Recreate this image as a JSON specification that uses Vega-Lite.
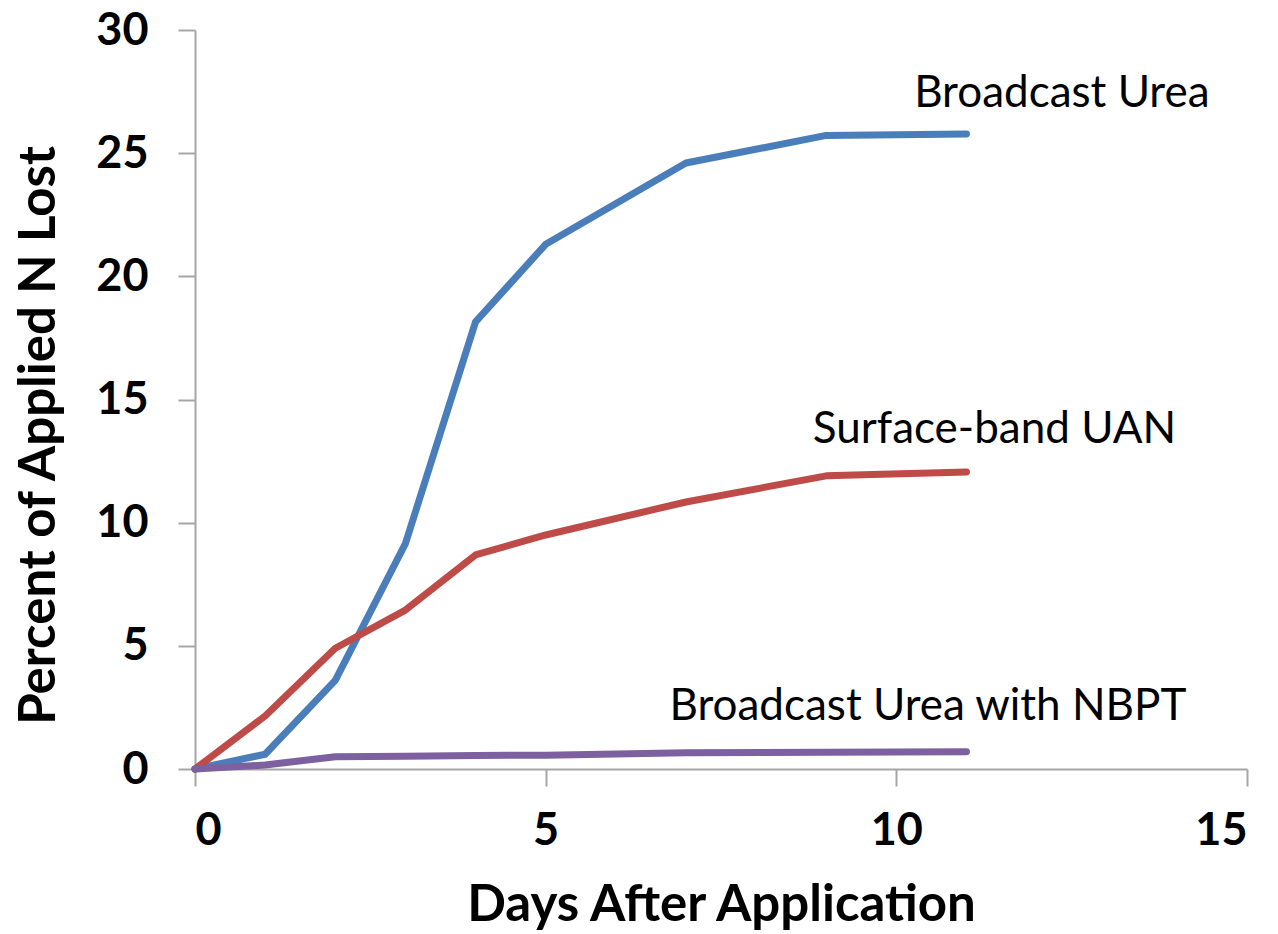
{
  "$schema": "https://vega.github.io/schema/vega-lite/v6.json",
  "width": 1052,
  "height": 739,
  "autosize": {"type": "none"},
  "padding": {"left": 195, "top": 30, "right": 31, "bottom": 165},
  "background": "white",
  "config": {
    "view": {"stroke": null},
    "font": "Lato",
    "axis": {
      "grid": false,
      "domainColor": "#a6a6a6",
      "domainWidth": 2,
      "tickColor": "#a6a6a6",
      "tickWidth": 2,
      "tickSize": 17,
      "labelFont": "Lato",
      "labelFontWeight": "bold",
      "labelFontSize": 45,
      "labelColor": "black",
      "titleFont": "Lato",
      "titleFontWeight": "bold",
      "titleFontSize": 51,
      "titleColor": "black"
    }
  },
  "datasets": {
    "loss": [
      {"day": 0, "pct": 0, "series": "Broadcast Urea"},
      {"day": 1, "pct": 0.6, "series": "Broadcast Urea"},
      {"day": 2, "pct": 3.6, "series": "Broadcast Urea"},
      {"day": 3, "pct": 9.15, "series": "Broadcast Urea"},
      {"day": 4, "pct": 18.15, "series": "Broadcast Urea"},
      {"day": 5, "pct": 21.3, "series": "Broadcast Urea"},
      {"day": 7, "pct": 24.6, "series": "Broadcast Urea"},
      {"day": 9, "pct": 25.72, "series": "Broadcast Urea"},
      {"day": 11, "pct": 25.78, "series": "Broadcast Urea"},
      {"day": 0, "pct": 0, "series": "Surface-band UAN"},
      {"day": 1, "pct": 2.15, "series": "Surface-band UAN"},
      {"day": 2, "pct": 4.9, "series": "Surface-band UAN"},
      {"day": 3, "pct": 6.45, "series": "Surface-band UAN"},
      {"day": 4, "pct": 8.69, "series": "Surface-band UAN"},
      {"day": 5, "pct": 9.5, "series": "Surface-band UAN"},
      {"day": 7, "pct": 10.84, "series": "Surface-band UAN"},
      {"day": 9, "pct": 11.9, "series": "Surface-band UAN"},
      {"day": 11, "pct": 12.06, "series": "Surface-band UAN"},
      {"day": 0, "pct": 0, "series": "Broadcast Urea with NBPT"},
      {"day": 1, "pct": 0.16, "series": "Broadcast Urea with NBPT"},
      {"day": 2, "pct": 0.5, "series": "Broadcast Urea with NBPT"},
      {"day": 3, "pct": 0.52, "series": "Broadcast Urea with NBPT"},
      {"day": 4, "pct": 0.55, "series": "Broadcast Urea with NBPT"},
      {"day": 5, "pct": 0.56, "series": "Broadcast Urea with NBPT"},
      {"day": 7, "pct": 0.66, "series": "Broadcast Urea with NBPT"},
      {"day": 9, "pct": 0.68, "series": "Broadcast Urea with NBPT"},
      {"day": 11, "pct": 0.7, "series": "Broadcast Urea with NBPT"}
    ],
    "labels": [
      {"day": 12.36, "pct": 27.4, "series": "Broadcast Urea"},
      {"day": 11.4, "pct": 13.75, "series": "Surface-band UAN"},
      {"day": 10.45, "pct": 2.5, "series": "Broadcast Urea with NBPT"}
    ]
  },
  "encoding": {
    "x": {
      "field": "day",
      "type": "quantitative",
      "scale": {"domain": [0, 15], "nice": false, "zero": true},
      "axis": {
        "values": [0, 5, 10, 15],
        "title": "Days After Application",
        "labelPadding": 22,
        "titleBaseline": "alphabetic",
        "titleY": 151
      }
    },
    "y": {
      "field": "pct",
      "type": "quantitative",
      "scale": {"domain": [0, 30], "nice": false},
      "axis": {
        "values": [0, 5, 10, 15, 20, 25, 30],
        "title": "Percent of Applied N Lost",
        "labelPadding": 30,
        "titleAngle": 270,
        "titleAlign": "center",
        "titleBaseline": "middle",
        "titleX": -156,
        "titleY": 405
      }
    }
  },
  "layer": [
    {
      "data": {"name": "loss"},
      "mark": {"type": "line", "strokeWidth": 7, "strokeCap": "round", "strokeJoin": "round"},
      "encoding": {
        "color": {
          "field": "series",
          "type": "nominal",
          "scale": {
            "domain": ["Broadcast Urea", "Surface-band UAN", "Broadcast Urea with NBPT"],
            "range": ["#4a7ebb", "#be4b48", "#7d60a0"]
          },
          "legend": null
        }
      }
    },
    {
      "data": {"name": "labels"},
      "mark": {"type": "text", "fontSize": 44, "font": "Lato", "color": "black", "align": "center", "baseline": "middle"},
      "encoding": {"text": {"field": "series"}}
    }
  ]
}
